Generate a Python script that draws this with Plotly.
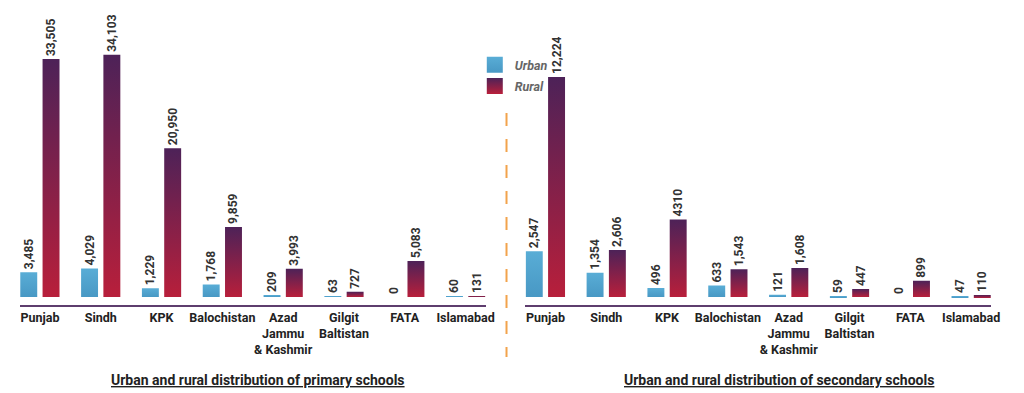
import plotly.graph_objects as go

regions = ["Punjab", "Sindh", "KPK", "Balochistan", "Azad<br>Jammu<br>& Kashmir",
           "Gilgit<br>Baltistan", "FATA", "Islamabad"]

primary_urban = [3485, 4029, 1229, 1768, 209, 63, 0, 60]
primary_rural = [33505, 34103, 20950, 9859, 3993, 727, 5083, 131]
primary_urban_txt = ["3,485", "4,029", "1,229", "1,768", "209", "63", "0", "60"]
primary_rural_txt = ["33,505", "34,103", "20,950", "9,859", "3,993", "727", "5,083", "131"]

secondary_urban = [2547, 1354, 496, 633, 121, 59, 0, 47]
secondary_rural = [12224, 2606, 4310, 1543, 1608, 447, 899, 110]
secondary_urban_txt = ["2,547", "1,354", "496", "633", "121", "59", "0", "47"]
secondary_rural_txt = ["12,224", "2,606", "4310", "1,543", "1,608", "447", "899", "110"]

URBAN_BASE = "#4fa3cd"
RURAL_BASE = "#8a2145"
FONT = "Roboto, Liberation Sans Narrow, DejaVu Sans Condensed, sans-serif"
LABEL_FONT = dict(family=FONT, size=12, color="#333333", weight="bold")

fig = go.Figure()

def add_pair(xa, ya, urban, rural, utxt, rtxt, show):
    fig.add_trace(go.Bar(
        x=regions, y=urban, name="Urban", text=utxt, textposition="outside",
        textangle=-90, constraintext="none", cliponaxis=False,
        textfont=LABEL_FONT, marker=dict(color=URBAN_BASE, line=dict(width=0)),
        xaxis=xa, yaxis=ya, showlegend=show, legendgroup="u",
    ))
    fig.add_trace(go.Bar(
        x=regions, y=rural, name="Rural", text=rtxt, textposition="outside",
        textangle=-90, constraintext="none", cliponaxis=False,
        textfont=LABEL_FONT, marker=dict(color=RURAL_BASE, line=dict(width=0)),
        xaxis=xa, yaxis=ya, showlegend=show, legendgroup="r",
    ))

add_pair("x", "y", primary_urban, primary_rural, primary_urban_txt, primary_rural_txt, True)
add_pair("x2", "y2", secondary_urban, secondary_rural, secondary_urban_txt, secondary_rural_txt, False)

xcommon = dict(
    type="category", range=[-0.33, 7.33], showline=True, linecolor="#5e3d6e",
    linewidth=1.5, showgrid=False, zeroline=False, ticks="", fixedrange=True,
    tickangle=0,
    tickfont=dict(family=FONT, size=12.5, color="#222222", weight="bold"),
)
ycommon = dict(showgrid=False, zeroline=False, showticklabels=False,
               showline=False, ticks="", fixedrange=True)

fig.update_layout(
    width=1024, height=393,
    margin=dict(l=0, r=0, t=0, b=0),
    paper_bgcolor="white", plot_bgcolor="white",
    barmode="group", bargap=0.267, bargroupgap=0.24,
    xaxis=dict(domain=[20 / 1024, 490 / 1024], anchor="y", **xcommon),
    xaxis2=dict(domain=[530 / 1024, 1000 / 1024], anchor="y2", **xcommon),
    yaxis=dict(domain=[88 / 393, 1], anchor="x", range=[-1127, 41831], **ycommon),
    yaxis2=dict(domain=[88 / 393, 1], anchor="x2", range=[-444, 16500], **ycommon),
    legend=dict(x=479 / 1024, y=(393 - 50) / 393, xanchor="left", yanchor="top",
                orientation="v", tracegroupgap=2, bgcolor="rgba(0,0,0,0)",
                font=dict(family=FONT, size=12.5, color="#666666",
                          style="italic", weight="bold")),
    shapes=[dict(type="line", xref="paper", yref="paper",
                 x0=511 / 1024, x1=511 / 1024, y0=(393 - 113) / 393, y1=(393 - 357) / 393,
                 line=dict(color="#f2a34c", width=2, dash="13px,13px"))],
    annotations=[
        dict(text="<u>Urban and rural distribution of primary schools</u>",
             xref="paper", yref="paper", x=260 / 1024, y=(393 - 380) / 393,
             showarrow=False, xanchor="center", yanchor="middle",
             font=dict(family=FONT, size=14, color="#222222", weight="bold")),
        dict(text="<u>Urban and rural distribution of secondary schools</u>",
             xref="paper", yref="paper", x=786 / 1024, y=(393 - 380) / 393,
             showarrow=False, xanchor="center", yanchor="middle",
             font=dict(family=FONT, size=14, color="#222222", weight="bold")),
    ],
)

post = """
document.body.style.margin = '0';
document.body.style.overflow = 'hidden';
var gd = document.getElementById('{plot_id}');
function mkGrad(defs, id, top, bottom){
  if (document.getElementById(id)) return;
  var ns = 'http://www.w3.org/2000/svg';
  var g = document.createElementNS(ns, 'linearGradient');
  g.setAttribute('id', id);
  g.setAttribute('x1', '0'); g.setAttribute('y1', '0');
  g.setAttribute('x2', '0'); g.setAttribute('y2', '1');
  var s1 = document.createElementNS(ns, 'stop');
  s1.setAttribute('offset', '0'); s1.setAttribute('stop-color', top);
  var s2 = document.createElementNS(ns, 'stop');
  s2.setAttribute('offset', '1'); s2.setAttribute('stop-color', bottom);
  g.appendChild(s1); g.appendChild(s2); defs.appendChild(g);
}
function applyGrad(){
  var svgs = gd.querySelectorAll('svg.main-svg');
  var defs = svgs[0].querySelector('defs');
  mkGrad(defs, 'gradUrban', '#59add6', '#4898c4');
  mkGrad(defs, 'gradRural', '#4d2258', '#b81f3b');
  var map = {'rgb(79, 163, 205)': 'url(#gradUrban)', 'rgb(138, 33, 69)': 'url(#gradRural)'};
  gd.querySelectorAll('.legendpoints path').forEach(function(p){
    p.setAttribute('d', 'M8,8H-8V-8H8Z');
  });
  gd.querySelectorAll('path').forEach(function(p){
    var f = p.style.fill;
    if (map[f]) { p.style.fill = map[f]; }
  });
}
applyGrad();
gd.on('plotly_afterplot', applyGrad);
"""

fig.write_html("out.html", post_script=post, config={"displayModeBar": False})
